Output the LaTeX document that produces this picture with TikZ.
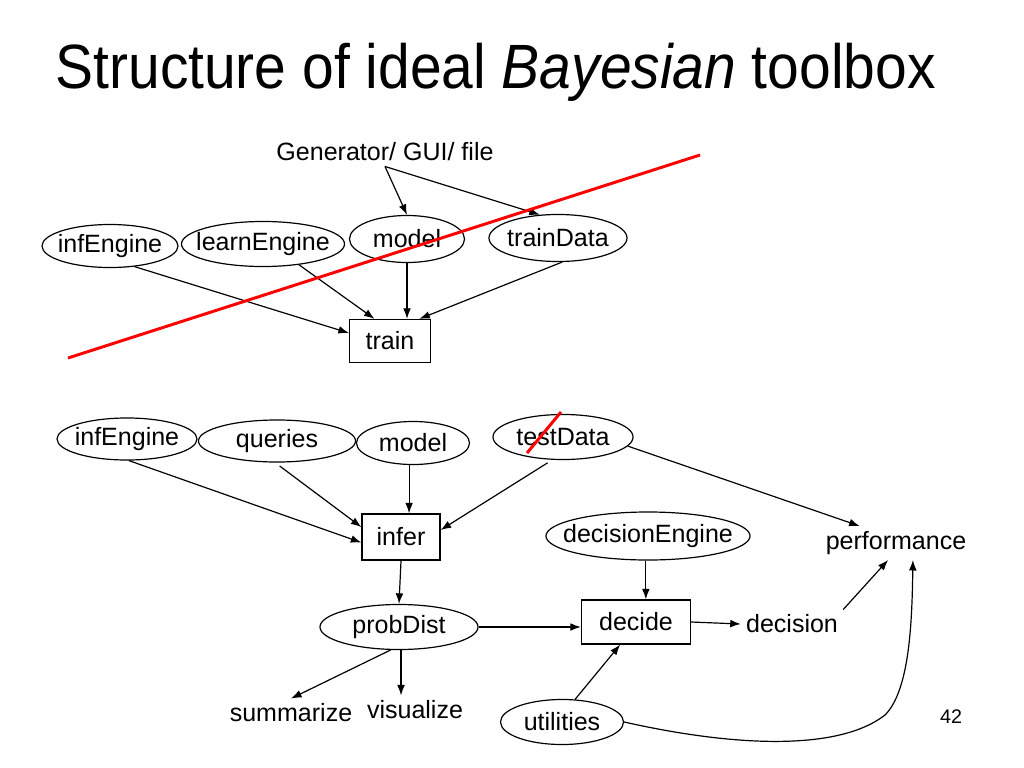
\documentclass[tikz,border=0pt]{standalone}
\usepackage{fontspec}
\setmainfont{Liberation Sans}
\usetikzlibrary{shapes.geometric,arrows.meta}
\newcommand{\zw}[1]{\makebox[0pt]{#1}}
\begin{document}
\begin{tikzpicture}[x=0.025cm,y=-0.025cm,line width=0.85pt,
    every node/.style={font=\fontsize{17.8}{20}\selectfont},
    oval/.style={draw,ellipse,inner sep=0pt},
    box/.style={draw,rectangle,inner sep=0pt},
    strike/.style={draw=red,line width=2.1pt},
    >={Latex[length=7.5pt,width=5.5pt]}]
  \useasboundingbox (0,0) rectangle (1024,768);
  \node[anchor=base west,inner sep=0pt,font=\fontsize{44.5}{50}\selectfont] (title) at (55,89)
    {\scalebox{0.91}[1]{Structure of ideal \textit{Bayesian} toolbox}};
  % training part
  \node (gen) at (385,152) {Generator/ GUI/ file};
  \node[oval,minimum width=3.4cm,minimum height=1.075cm] (ie1) at (110,246) {\zw{infEngine}};
  \node[oval,minimum width=4.075cm,minimum height=1.125cm] (le) at (263,244) {\zw{learnEngine}};
  \node[oval,minimum width=2.875cm,minimum height=1.175cm] (m1) at (407,239) {\zw{model}};
  \node[oval,minimum width=3.45cm,minimum height=1.175cm] (td1) at (558,238) {\zw{trainData}};
  \node[box,minimum width=2.025cm,minimum height=1.075cm] (train) at (390,341) {train};
  % inference part
  \node[oval,minimum width=3.5cm,minimum height=1.05cm] (ie2) at (127,439) {\zw{infEngine}};
  \node[oval,minimum width=3.925cm,minimum height=1.05cm] (q) at (277,441) {\zw{queries}};
  \node[oval,minimum width=2.825cm,minimum height=1.075cm] (m2) at (413,443) {\zw{model}};
  \node[oval,minimum width=3.5cm,minimum height=1.125cm] (td2) at (563,437) {\zw{testData}};
  \node[box,minimum width=1.95cm,minimum height=1.15cm] (infer) at (401,537) {infer};
  \node[oval,minimum width=5.1cm,minimum height=1.2cm] (de) at (648,536) {\zw{decisionEngine}};
  \node (perf) at (896,543) {performance};
  \node[oval,minimum width=3.95cm,minimum height=1.125cm] (pd) at (399,627) {\zw{probDist}};
  \node[box,minimum width=2.725cm,minimum height=1.1cm] (decide) at (636,622) {decide};
  \node (dec) at (792,624) {decision};
  \node (summ) at (291,713) {summarize};
  \node (vis) at (415,710) {visualize};
  \node[oval,minimum width=3.075cm,minimum height=1.125cm] (util) at (562,722) {\zw{utilities}};
  \node[font=\fontsize{14}{16}\selectfont] (pg) at (951,717) {42};
  \begin{scope}[->]
    \draw (gen.south) to (m1.north);
    \draw (gen.south) to (td1.128);
    \draw (ie1.-40) to (train.169);
    \draw (le.-30) to (train.125);
    \draw (m1.south) to (m1.south |- train.north);
    \draw (td1.-80) to (train.37);
    \draw (ie2.-85) to (infer.-172);
    \draw[shorten <=4pt] (q.-95) to (infer.166);
    \draw (m2.-100) to (m2.-100 |- infer.north);
    \draw[shorten <=4pt] (td2.-115) to (infer.10);
    \draw (td2.-8) to (perf.155);
    \draw (infer.south) to (pd.north);
    \draw (de.-95) to (de.-95 |- decide.north);
    \draw (pd.east) to (pd.east -| decide.west);
    \draw (decide.east) to (dec.west);
    \draw (dec.north east) to (perf.-115);
    \draw (pd.-110) to (summ.north);
    \draw (pd.-85) to (pd.-85 |- vis.north);
    \draw (util.60) to (decide.-125);
    \draw (util.east) .. controls (740,748) and (840,750) .. (885,715)
      .. controls (910,690) and (912,620) .. (perf.-45);
  \end{scope}
  % crossed out
  \draw[strike] (68,358) -- (700,155);
  \draw[strike] (527,453) -- (561,412);
\end{tikzpicture}
\end{document}
